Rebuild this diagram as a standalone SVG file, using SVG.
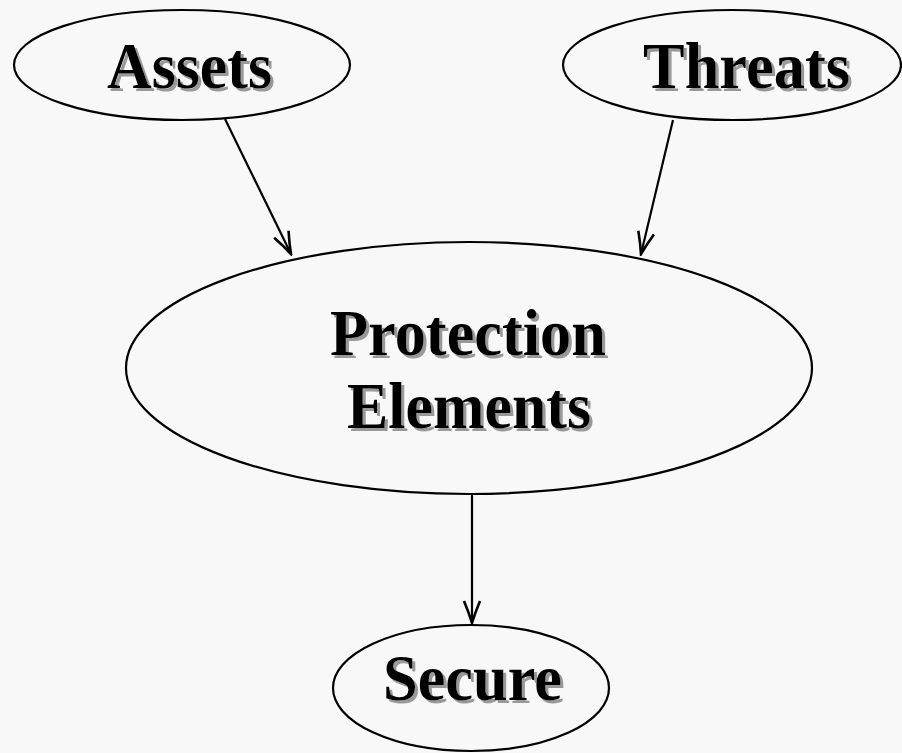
<svg xmlns="http://www.w3.org/2000/svg" width="902" height="753" viewBox="0 0 902 753">
<defs>
<style>
.bg{fill:#f8f8f8}
.node{fill:#f8f8f8;stroke:#000;stroke-width:2.2}
.edge{stroke:#000;stroke-width:2.2;fill:none}
.t{font-family:"Liberation Serif","Times New Roman",serif;font-weight:bold;font-size:66px;fill:#000;filter:url(#shadow)}
</style>
<filter id="shadow" x="-10%" y="-20%" width="130%" height="150%">
<feDropShadow dx="3" dy="3" stdDeviation="0.6" flood-color="#999999" flood-opacity="1"/>
</filter>
<marker id="arr" markerUnits="userSpaceOnUse" viewBox="-24 -10 26 20" refX="0" refY="0" markerWidth="26" markerHeight="20" orient="auto">
<path d="M-22,-8 Q-10,-3 0,0 Q-10,3 -22,8" fill="none" stroke="#000" stroke-width="2.6"/>
</marker>
</defs>
<rect class="bg" x="0" y="0" width="902" height="753"/>
<g id="connectors">
<line class="edge" x1="225" y1="119" x2="291" y2="254" marker-end="url(#arr)"/>
<line class="edge" x1="673" y1="120" x2="641" y2="254" marker-end="url(#arr)"/>
<line class="edge" x1="472" y1="495" x2="472" y2="623" marker-end="url(#arr)"/>
</g>
<g id="assets">
<ellipse class="node" cx="182" cy="65" rx="168" ry="55"/>
<text class="t" x="107" y="88" textLength="165" lengthAdjust="spacingAndGlyphs">Assets</text>
</g>
<g id="threats">
<ellipse class="node" cx="732" cy="65" rx="169" ry="55"/>
<text class="t" x="643" y="88" textLength="207" lengthAdjust="spacingAndGlyphs">Threats</text>
</g>
<g id="protection">
<ellipse class="node" cx="469" cy="368" rx="343" ry="126"/>
<text class="t" x="330" y="355" textLength="276" lengthAdjust="spacingAndGlyphs">Protection</text>
<text class="t" x="347" y="428" textLength="244" lengthAdjust="spacingAndGlyphs">Elements</text>
</g>
<g id="secure">
<ellipse class="node" cx="471" cy="688" rx="138" ry="63"/>
<text class="t" x="383" y="700" textLength="179" lengthAdjust="spacingAndGlyphs">Secure</text>
</g>
</svg>
